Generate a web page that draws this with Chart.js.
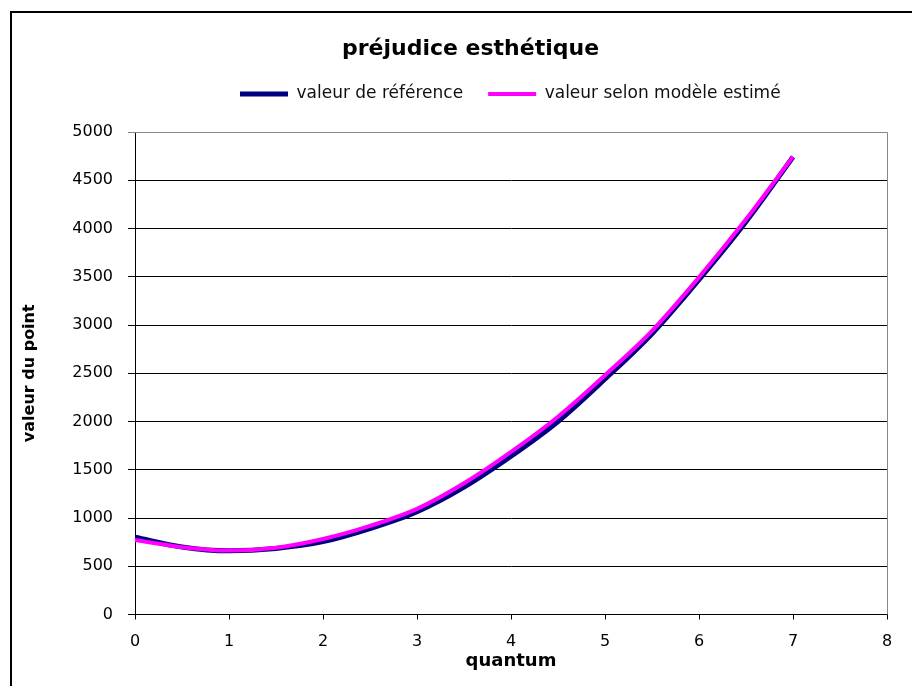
<!DOCTYPE html>
<html>
<head>
<meta charset="utf-8">
<script src="https://cdn.jsdelivr.net/npm/chart.js@4"></script>
<style>
  body { margin: 0; background: #fff; overflow: hidden; }
  #cadre { position: absolute; left: 10px; top: 11px; width: 1000px; height: 800px; border-left: 2px solid #000; border-top: 2px solid #000; pointer-events: none; }
  #graph { position: absolute; left: 0; top: 0; }
</style>
</head>
<body>
<canvas id="graph" width="912" height="686"></canvas>
<div id="cadre"></div>
<script>
// quantum
const quantum = [0, 0.5, 1, 1.5, 2, 2.5, 3, 3.5, 4, 4.5, 5, 5.5, 6, 6.5, 7];
// valeur de référence
const reference = [800, 700, 660, 685, 755, 890, 1065, 1320, 1640, 2000, 2440, 2910, 3470, 4070, 4740];
// valeur selon modèle estimé
const estime = [772, 698, 662, 692, 782, 918, 1095, 1360, 1685, 2050, 2480, 2940, 3495, 4095, 4745];

const xTicks = [0, 1, 2, 3, 4, 5, 6, 7, 8];
const yTicks = [0, 500, 1000, 1500, 2000, 2500, 3000, 3500, 4000, 4500, 5000];

const police = 'DejaVu Sans';

const points = (vals) => quantum.map((q, i) => ({ x: q, y: vals[i] }));

// decale titre et légende comme dans Excel + bord gris du tracé
const decalage = {
    id: 'decalage',
    afterLayout(chart) {
        const t = chart.titleBlock;
        t.left += 27; t.right += 27;
        const lg = chart.legend;
        const pad = lg.options.labels.padding;
        const start = (lg.left + pad + lg.right - lg.lineWidths[0]) / 2;
        const d = 240 - start;
        lg.left += d; lg.right += d;
    },
    beforeDatasetsDraw(chart) {
        const { ctx, chartArea: a } = chart;
        ctx.save();
        ctx.strokeStyle = '#888';
        ctx.lineWidth = 1;
        ctx.beginPath();
        ctx.moveTo(a.left, a.top + 0.5);
        ctx.lineTo(a.right + 0.5, a.top + 0.5);
        ctx.lineTo(a.right + 0.5, a.bottom);
        ctx.stroke();
        ctx.restore();
    }
};

new Chart(document.getElementById('graph'), {
    type: 'line',
    data: {
        datasets: [
            {
                label: 'valeur de référence',
                data: points(reference),
                borderColor: '#000080',
                backgroundColor: '#000080',
                borderWidth: 5,
                pointRadius: 0,
                cubicInterpolationMode: 'monotone',
                order: 2,
            },
            {
                label: 'valeur selon modèle estimé',
                data: points(estime),
                borderColor: '#ff00ff',
                backgroundColor: '#ff00ff',
                borderWidth: 4,
                pointRadius: 0,
                cubicInterpolationMode: 'monotone',
                order: 1,
            },
        ],
    },
    options: {
        responsive: false,
        animation: false,
        devicePixelRatio: 1,
        layout: { padding: { top: 10, left: 0, right: 25, bottom: 0 } },
        plugins: {
            title: {
                display: true,
                text: 'préjudice esthétique',
                color: '#000',
                font: { family: police, size: 22, weight: 'bold', lineHeight: 1 },
                padding: { top: 28, bottom: 0.5 },
            },
            legend: {
                display: true,
                position: 'top',
                labels: {
                    color: '#111',
                    font: { family: police, size: 17 },
                    boxWidth: 48,
                    boxHeight: 0,
                    padding: 25,
                    sort: (a, b) => a.datasetIndex - b.datasetIndex,
                },
            },
            subtitle: {
                display: true,
                text: '',
                weight: 0,
                font: { size: 1, lineHeight: 1 },
                padding: { top: 18.5, bottom: 0 },
            },
            tooltip: { enabled: false },
        },
        scales: {
            x: {
                type: 'linear',
                min: 0,
                max: 8,
                afterBuildTicks: (s) => { s.ticks = xTicks.map(v => ({ value: v })); },
                afterFit: (s) => { s.height = 71.5; },
                grid: { drawOnChartArea: false, drawTicks: true, tickLength: 5, color: '#000' },
                border: { color: '#000', width: 1 },
                ticks: { color: '#000', font: { family: police, size: 16 }, padding: 12.4, maxRotation: 0 },
                title: {
                    display: true,
                    text: 'quantum',
                    color: '#000',
                    font: { family: police, size: 18, weight: 'bold' },
                    padding: { top: 0, bottom: 14.2 },
                },
            },
            y: {
                min: 0,
                max: 5000,
                afterBuildTicks: (s) => { s.ticks = yTicks.map(v => ({ value: v })); },
                afterFit: (s) => { s.width = 135; },
                grid: {
                    color: (c) => (c.tick && c.tick.value === 5000 ? '#888' : '#000'),
                    tickLength: 7,
                    lineWidth: 1,
                },
                border: { color: '#000', width: 1 },
                ticks: {
                    color: '#000',
                    font: { family: police, size: 16 },
                    padding: 15,
                    callback: (v) => String(v),
                },
                title: {
                    display: true,
                    text: 'valeur du point',
                    color: '#000',
                    font: { family: police, size: 16, weight: 'bold' },
                    padding: { top: 20.4, bottom: 0 },
                },
            },
        },
    },
    plugins: [decalage],
});
</script>
</body>
</html>
